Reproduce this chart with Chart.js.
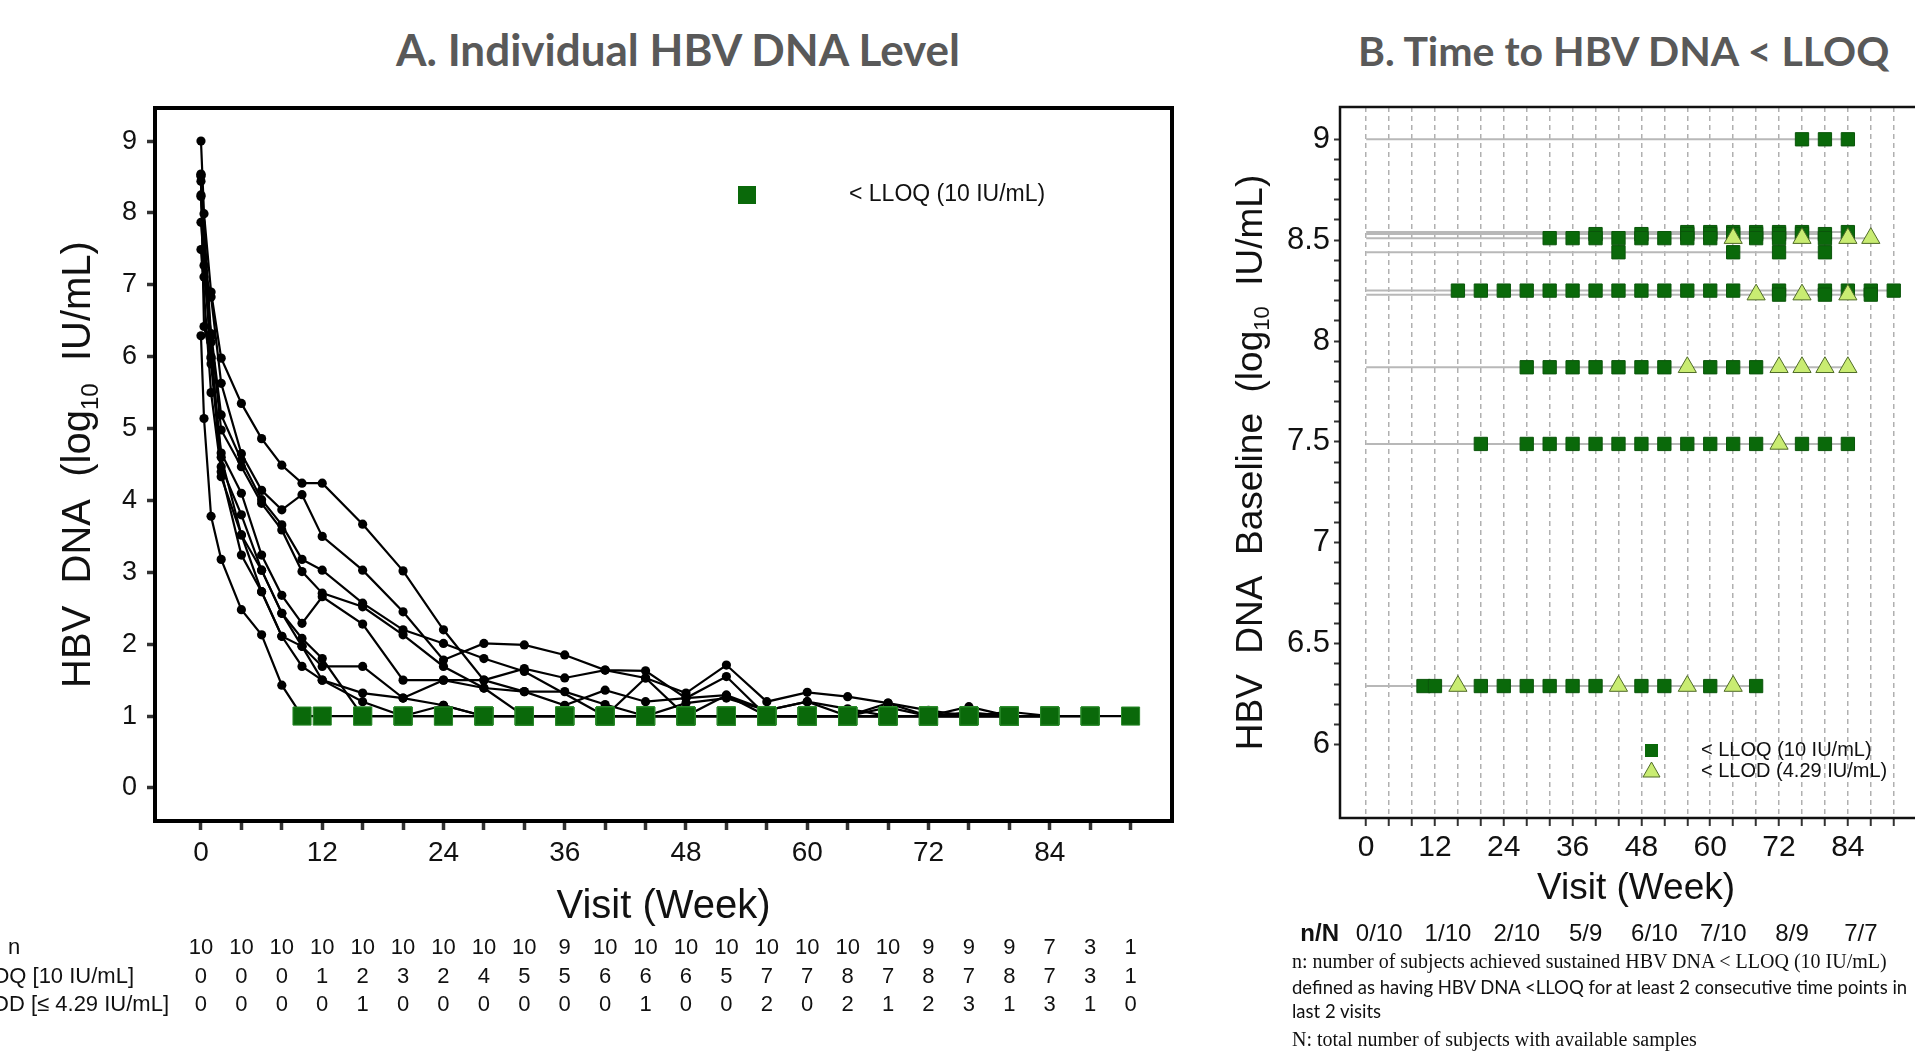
<!DOCTYPE html>
<html>
<head>
<meta charset="utf-8">
<title>HBV DNA level and time to HBV DNA &lt; LLOQ</title>
<script src="https://cdn.jsdelivr.net/npm/chart.js@4.4.1/dist/chart.umd.min.js"></script>
<style>
  body { margin: 0; width: 1915px; height: 1053px; overflow: hidden; background: #fff; position: relative; }
  canvas { position: absolute; top: 0; }
  #chartA { left: 0; }
  #chartB { left: 1190px; }
  .title { position: absolute; font-family: 'Lato', 'Open Sans', sans-serif; font-weight: bold; font-size: 44px; line-height: 44px; color: #595959; white-space: nowrap; }
  #titleA { left: 678px; top: 27px; transform: translateX(-50%); }
  #titleB { left: 1358px; top: 30px; font-size: 41px; line-height: 41px; }
  .note { position: absolute; left: 1292px; white-space: nowrap; color: #111; }
  .serif { font-family: 'Liberation Serif', 'Times New Roman', serif; font-size: 20px; }
  .sans { font-family: 'Lato', 'Open Sans', sans-serif; font-size: 18.5px; }
</style>
</head>
<body>
<div class="title" id="titleA">A. Individual HBV DNA Level</div>
<div class="title" id="titleB">B. Time to HBV DNA &lt; LLOQ</div>
<canvas id="chartA" width="1190" height="1053"></canvas>
<canvas id="chartB" width="725" height="1053"></canvas>
<div class="note serif" style="top:950px">n: number of subjects achieved sustained HBV DNA &lt; LLOQ (10 IU/mL)</div>
<div class="note sans" style="top:976px">defined as having HBV DNA &lt;LLOQ for at least 2 consecutive time points in</div>
<div class="note sans" style="top:1000px">last 2 visits</div>
<div class="note serif" style="top:1028px">N: total number of subjects with available samples</div>
<script>
// visit weeks (day 0, day 2, week 1, 2, 4 ... 92)
const visitWeeks = [0, 0.3, 1, 2, 4, 6, 8, 10, 12, 16, 20, 24, 28, 32, 36, 40, 44, 48, 52, 56, 60, 64, 68, 72, 76, 80, 84, 88, 92];
const LLOQ_LOG = 1; // values below LLOQ (10 IU/mL) are plotted at log10(10)

// HBV DNA, log10 IU/mL, one array per subject (null = no sample)
const subj01 = [9.00, 7.99, 6.90, 5.98, 5.35, 4.86, 4.49, 4.24, 4.24, 3.67, 3.02, 2.20, 1.50, 1.66, 1.53, 1.64, 1.53, 1.32, 1.71, 1.20, 1.33, 1.27, 1.18, 1.08, 1, 1, 1, null, null];
const subj02 = [8.54, 7.27, 6.83, 5.63, 4.65, 4.14, 3.87, 4.08, 3.50, 3.03, 2.45, 1.78, 2.01, 1.99, 1.85, 1.64, 1.63, 1.25, 1.55, 1, 1, 1, 1, 1, 1, 1.06, 1, null, null];
const subj03 = [8.53, 7.11, 6.32, 5.19, 4.56, 4.01, 3.66, 3.18, 3.03, 2.57, 2.20, 2.01, 1.80, 1.62, null, 1, 1.53, 1, 1.29, 1, 1, 1, 1, 1, 1, 1, null, null, null];
const subj04 = [8.51, null, 6.28, 4.98, 4.47, 3.96, 3.59, 3.01, 2.71, 2.52, 2.13, 1.69, 1.39, 1, 1, 1, 1, 1, 1, 1, 1, 1, 1, 1, 1, 1, 1, 1, null];
const subj05 = [8.44, 6.42, 5.98, 4.66, 4.10, 3.24, 2.68, 2.29, 2.66, 2.28, 1.50, 1.50, 1.50, 1.34, 1.34, 1.16, 1, 1.18, 1.25, 1.08, 1.20, 1, 1.18, 1, 1.13, 1, null, null, null];
const subj06 = [8.25, null, 5.90, 4.47, 3.80, 3.03, 2.43, 2.08, 1.80, 1, 1, 1, 1, 1, 1, 1, 1, 1, 1, 1, 1, 1, 1.12, 1, 1.05, 1, 1, 1, 1];
const subj07 = [8.23, null, 6.20, 4.33, 3.52, 2.73, 2.11, 1.97, 1.69, 1.69, 1.25, 1.50, 1.39, 1.34, 1.15, 1.36, 1.20, 1.25, 1.29, 1.08, 1.20, 1.10, 1, 1, 1, 1, 1, 1, null];
const subj08 = [7.87, null, 6.00, 4.60, 3.52, 3.03, 2.43, 1.97, 1.50, 1.32, 1.25, 1.15, 1, 1, 1, 1, 1, 1, 1, 1, 1, 1, 1, 1, 1, 1, 1, null, null];
const subj09 = [7.49, null, 5.50, 4.40, 3.24, 2.73, 2.11, 1.69, 1.50, 1.20, 1, 1.15, 1, 1, 1, 1, 1, 1, 1, 1, 1, 1, 1, 1, 1, 1, 1, null, null];
const subj10 = [6.29, 5.14, 3.78, 3.18, 2.48, 2.13, 1.43, 1, 1, 1, 1, 1, 1, 1, 1, 1, 1, 1, 1, 1, 1, 1, 1, null, null, null, null, null, null];
const subjects = [subj01, subj02, subj03, subj04, subj05, subj06, subj07, subj08, subj09, subj10];

// weeks where the value was also < LLOD (4.29 IU/mL), per subject
const lodWeeks = [[], [], [], [64, 76, 84, 88], [], [], [68, 76, 84], [56, 72, 76, 80, 84], [72], [16, 44, 56, 64]];

// table under panel A
const tableWeeks = [0, 4, 8, 12, 16, 20, 24, 28, 32, 36, 40, 44, 48, 52, 56, 60, 64, 68, 72, 76, 80, 84, 88, 92];
const tableN    = [10, 10, 10, 10, 10, 10, 10, 10, 10, 9, 10, 10, 10, 10, 10, 10, 10, 10, 9, 9, 9, 7, 3, 1];
const tableLLOQ = [0, 0, 0, 1, 2, 3, 2, 4, 5, 5, 6, 6, 6, 5, 7, 7, 8, 7, 8, 7, 8, 7, 3, 1];
const tableLLOD = [0, 0, 0, 0, 1, 0, 0, 0, 0, 0, 0, 1, 0, 0, 2, 0, 2, 1, 2, 3, 1, 3, 1, 0];
const tableRowLabels = ['n', '< LLOQ [10 IU/mL]', '< LLOD [\u2264 4.29 IU/mL]'];

// n/N row under panel B
const nNWeeks = [0, 12, 24, 36, 48, 60, 72, 84];
const nNLabels = ['0/10', '1/10', '2/10', '5/9', '6/10', '7/10', '8/9', '7/7'];

// axis ticks
const xTicksA = [0, 4, 8, 12, 16, 20, 24, 28, 32, 36, 40, 44, 48, 52, 56, 60, 64, 68, 72, 76, 80, 84, 88, 92];
const yTicksA = [0, 1, 2, 3, 4, 5, 6, 7, 8, 9];
const xTicksB = xTicksA;
const yLabelsB = [6, 6.5, 7, 7.5, 8, 8.5, 9];

const SANS = "'Liberation Sans', Arial, sans-serif";
const NARROW = "'Liberation Sans Narrow', 'Liberation Sans', Arial, sans-serif";
const GREEN = '#0a690a';

function pointsOf(values) {
  const pts = [];
  values.forEach((v, i) => { if (v !== null) pts.push({ x: visitWeeks[i], y: v }); });
  return pts;
}

function drawRotated(ctx, cx, cy, size, parts) {
  ctx.save();
  ctx.translate(cx, cy);
  ctx.rotate(-Math.PI / 2);
  ctx.textBaseline = 'middle';
  ctx.textAlign = 'left';
  ctx.fillStyle = '#111';
  const subSize = Math.round(size * 0.6);
  let total = 0;
  parts.forEach(p => { ctx.font = (p.sub ? subSize : size) + 'px ' + SANS; total += ctx.measureText(p.text).width; });
  let x = -total / 2;
  parts.forEach(p => {
    ctx.font = (p.sub ? subSize : size) + 'px ' + SANS;
    ctx.fillText(p.text, x, p.sub ? size * 0.3 : 0);
    x += ctx.measureText(p.text).width;
  });
  ctx.restore();
}

// ---------- panel A ----------
const lineSetsA = subjects.map((s, i) => ({
  label: 'Subject ' + (i + 1),
  order: 2,
  data: pointsOf(s),
  borderColor: '#000',
  borderWidth: 2.2,
  pointBackgroundColor: '#000',
  pointBorderWidth: 0,
  pointRadius: c => (c.raw && c.raw.y === LLOQ_LOG ? 0 : 4.6),
  tension: 0
}));

const lloqPointsA = [];
subjects.forEach(s => pointsOf(s).forEach(p => { if (p.y === LLOQ_LOG) lloqPointsA.push(p); }));

const frameA = {
  id: 'frameA',
  afterDraw(chart) {
    const { ctx, chartArea: a, scales } = chart;
    ctx.save();
    ctx.strokeStyle = '#000';
    ctx.lineWidth = 4;
    ctx.strokeRect(a.left, a.top, a.right - a.left, a.bottom - a.top);

    drawRotated(ctx, 79, (a.top + a.bottom) / 2, 40,
      [{ text: 'HBV  DNA  (log' }, { text: '10', sub: true }, { text: '  IU/mL)' }]);

    ctx.fillStyle = '#111';
    ctx.textAlign = 'center';
    ctx.textBaseline = 'middle';
    ctx.font = '40px ' + SANS;
    ctx.fillText('Visit (Week)', (a.left + a.right) / 2, 907);

    // legend
    ctx.fillStyle = GREEN;
    ctx.fillRect(738, 186, 18, 18);
    ctx.fillStyle = '#111';
    ctx.textAlign = 'left';
    ctx.font = '23px ' + SANS;
    ctx.fillText('< LLOQ (10 IU/mL)', 849, 195);

    // table
    ctx.font = '22px ' + NARROW;
    const rows = [tableN, tableLLOQ, tableLLOD];
    const rowY = [948, 977, 1005];
    rows.forEach((row, r) => {
      ctx.textAlign = 'center';
      row.forEach((v, i) => ctx.fillText(String(v), scales.x.getPixelForValue(tableWeeks[i]), rowY[r]));
    });
    ctx.textAlign = 'left';
    ctx.fillText(tableRowLabels[0], 8, rowY[0]);
    ctx.textAlign = 'right';
    ctx.fillText(tableRowLabels[1], 134, rowY[1]);
    ctx.fillText(tableRowLabels[2], 169, rowY[2]);
    ctx.restore();
  }
};

new Chart(document.getElementById('chartA'), {
  type: 'line',
  data: {
    datasets: [...lineSetsA, {
      label: '< LLOQ (10 IU/mL)',
      order: 1,
      data: lloqPointsA,
      showLine: false,
      pointStyle: 'rect',
      pointRadius: 12.8,
      pointBackgroundColor: GREEN,
      pointBorderColor: '#2b8a2b',
      pointBorderWidth: 1
    }]
  },
  options: {
    responsive: false,
    animation: false,
    layout: { padding: { left: 0, top: 108, right: 18, bottom: 0 } },
    plugins: { legend: { display: false }, tooltip: { enabled: false } },
    scales: {
      x: {
        type: 'linear', min: -4.55, max: 96.1,
        afterBuildTicks: s => { s.ticks = xTicksA.map(v => ({ value: v })); },
        afterFit: s => { s.height = 232; },
        ticks: { autoSkip: false, maxRotation: 0, padding: 6, color: '#111', font: { family: SANS, size: 28 },
                 callback: v => (v % 12 === 0 && v <= 84 ? String(v) : '') },
        grid: { drawOnChartArea: false, drawTicks: true, tickLength: 9, tickWidth: 3.5, tickColor: '#333' },
        border: { display: false }
      },
      y: {
        type: 'linear', min: -0.46, max: 9.46,
        afterBuildTicks: s => { s.ticks = yTicksA.map(v => ({ value: v })); },
        afterFit: s => { s.width = 155; },
        ticks: { padding: 10, color: '#111', font: { family: SANS, size: 27 } },
        grid: { drawOnChartArea: false, drawTicks: true, tickLength: 8, tickWidth: 3.5, tickColor: '#333' },
        border: { display: false }
      }
    }
  },
  plugins: [frameA]
});

// ---------- panel B ----------
const baselineSetsB = subjects.map((s, i) => {
  let last = 0;
  s.forEach((v, k) => { if (v !== null) last = visitWeeks[k]; });
  return {
    label: 'Baseline ' + (i + 1),
    order: 3,
    data: [{ x: 0, y: s[0] }, { x: last, y: s[0] }],
    borderColor: '#b8b8b8',
    borderWidth: 2,
    pointRadius: 0
  };
});

const lloqPointsB = [];
const llodPointsB = [];
subjects.forEach((s, i) => {
  s.forEach((v, k) => {
    if (v !== LLOQ_LOG) return;
    const w = visitWeeks[k];
    if (lodWeeks[i].includes(w)) llodPointsB.push({ x: w, y: s[0] });
    else lloqPointsB.push({ x: w, y: s[0] });
  });
});

const yMinorB = [];
for (let k = 60; k <= 90; k++) yMinorB.push(k / 10);

const frameB = {
  id: 'frameB',
  afterDraw(chart) {
    const { ctx, chartArea: a, scales } = chart;
    ctx.save();
    ctx.strokeStyle = '#111';
    ctx.lineWidth = 2.5;
    ctx.beginPath();
    ctx.moveTo(chart.width + 5, a.top);
    ctx.lineTo(a.left, a.top);
    ctx.lineTo(a.left, a.bottom);
    ctx.lineTo(chart.width + 5, a.bottom);
    ctx.stroke();

    drawRotated(ctx, 62, (a.top + a.bottom) / 2, 37,
      [{ text: 'HBV  DNA  Baseline  (log' }, { text: '10', sub: true }, { text: '  IU/mL)' }]);

    ctx.fillStyle = '#111';
    ctx.textAlign = 'center';
    ctx.textBaseline = 'middle';
    ctx.font = '37px ' + SANS;
    ctx.fillText('Visit (Week)', 446, 889);

    // legend
    ctx.fillStyle = GREEN;
    ctx.fillRect(455, 744, 13, 13);
    ctx.beginPath();
    ctx.moveTo(461.5, 762); ctx.lineTo(470, 777); ctx.lineTo(453, 777); ctx.closePath();
    ctx.fillStyle = '#c9ec72';
    ctx.fill();
    ctx.strokeStyle = '#4f6b28';
    ctx.lineWidth = 1;
    ctx.stroke();
    ctx.fillStyle = '#111';
    ctx.textAlign = 'left';
    ctx.font = '20px ' + SANS;
    ctx.fillText('< LLOQ (10 IU/mL)', 511, 750);
    ctx.fillText('< LLOD (4.29 IU/mL)', 511, 771);

    // n/N row
    ctx.font = 'bold 24px ' + SANS;
    ctx.textAlign = 'right';
    ctx.fillText('n/N', 149, 934);
    ctx.font = '24px ' + SANS;
    ctx.textAlign = 'center';
    nNLabels.forEach((t, i) => ctx.fillText(t, scales.x.getPixelForValue(nNWeeks[i]) + 13, 934));
    ctx.restore();
  }
};

new Chart(document.getElementById('chartB'), {
  type: 'line',
  data: {
    datasets: [...baselineSetsB, {
      label: '< LLOQ (10 IU/mL)',
      order: 2,
      data: lloqPointsB,
      showLine: false,
      pointStyle: 'rect',
      pointRadius: 9.4,
      pointBackgroundColor: GREEN,
      pointBorderColor: '#0b560b',
      pointBorderWidth: 1
    }, {
      label: '< LLOD (4.29 IU/mL)',
      order: 1,
      data: llodPointsB,
      showLine: false,
      pointStyle: 'triangle',
      pointRadius: 10.5,
      pointBackgroundColor: '#c9ec72',
      pointBorderColor: '#4f6b28',
      pointBorderWidth: 1
    }]
  },
  options: {
    responsive: false,
    animation: false,
    layout: { padding: { left: 0, top: 107, right: 0, bottom: 0 } },
    plugins: { legend: { display: false }, tooltip: { enabled: false } },
    scales: {
      x: {
        type: 'linear', min: -4.56, max: 93.7,
        afterBuildTicks: s => { s.ticks = xTicksB.map(v => ({ value: v })); },
        afterFit: s => { s.height = 235; },
        ticks: { autoSkip: false, maxRotation: 0, padding: 4, color: '#111', font: { family: SANS, size: 30 },
                 callback: v => (v % 12 === 0 && v <= 84 ? String(v) : '') },
        grid: { drawOnChartArea: true, drawTicks: true, tickLength: 8, lineWidth: 1.5, color: '#b0b0b0', tickColor: '#333', tickWidth: 2 },
        border: { display: false, dash: [5, 4] }
      },
      y: {
        type: 'linear', min: 5.636, max: 9.16,
        afterBuildTicks: s => { s.ticks = yMinorB.map(v => ({ value: v })); },
        afterFit: s => { s.width = 150; },
        ticks: { autoSkip: false, padding: 4, color: '#111', font: { family: SANS, size: 31 },
                 callback: v => (yLabelsB.some(l => Math.abs(l - v) < 1e-6) ? String(v) : '') },
        grid: { drawOnChartArea: false, drawTicks: true, tickLength: 6, tickWidth: 2, tickColor: '#333' },
        border: { display: false }
      }
    }
  },
  plugins: [frameB]
});
</script>
</body>
</html>
